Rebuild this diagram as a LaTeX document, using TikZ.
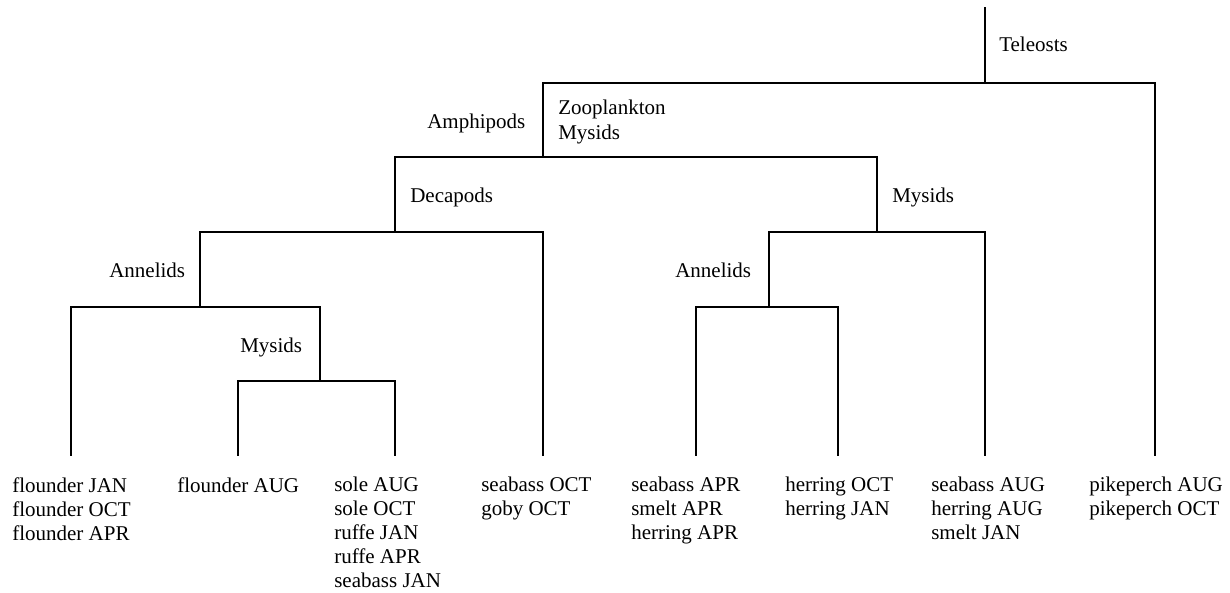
\documentclass[tikz,border=0pt]{standalone}
\usepackage{fontspec}
\setmainfont{Liberation Serif}
\begin{document}
\begin{tikzpicture}[x=0.75pt,y=-0.75pt,
  edge/.style={line width=1.5pt,line join=miter,line cap=rect},
  lbl/.style={inner sep=0pt,anchor=base west,font=\fontsize{15.75}{18}\selectfont},
  lblm/.style={inner sep=0pt,anchor=north west,align=left,font=\fontsize{15.75}{18.75}\selectfont},
  leaf/.style={inner sep=0pt,anchor=north west,align=left,font=\fontsize{15.75}{18}\selectfont}]
\useasboundingbox (0,0) rectangle (1230,592);
% junctions
\coordinate (r0) at (985,8);
\coordinate (a) at (985,83);
\coordinate (b) at (543,157);
\coordinate (c) at (395,232);
\coordinate (d) at (877,232);
\coordinate (e) at (200,307);
\coordinate (f) at (320,381);
\coordinate (g) at (769,307);
% leaf ends
\coordinate (L1) at (71,455);
\coordinate (L2) at (238,455);
\coordinate (L3) at (395,455);
\coordinate (L4) at (543,455);
\coordinate (L5) at (696,455);
\coordinate (L6) at (838,455);
\coordinate (L7) at (985,455);
\coordinate (L8) at (1155,455);
% connectors
\draw[edge] (r0) -- (a);
\draw[edge] (a) -| (b);
\draw[edge] (a) -| (L8);
\draw[edge] (b) -| (c);
\draw[edge] (b) -| (d);
\draw[edge] (c) -| (e);
\draw[edge] (c) -| (L4);
\draw[edge] (e) -| (L1);
\draw[edge] (e) -| (f);
\draw[edge] (f) -| (L2);
\draw[edge] (f) -| (L3);
\draw[edge] (d) -| (g);
\draw[edge] (d) -| (L7);
\draw[edge] (g) -| (L5);
\draw[edge] (g) -| (L6);
% branch labels
\node[lbl] (tel) at (999,52) {Teleosts};
\node[lbl] (amp) at (427,128) {Amphipods};
\node[lblm] (zoo) at (558,100) {Zooplankton\\Mysids};
\node[lbl] (dec) at (410,202) {Decapods};
\node[lbl] (mysR) at (892,202) {Mysids};
\node[lbl] (annL) at (109,277) {Annelids};
\node[lbl] (annR) at (675,277) {Annelids};
\node[lbl] (mysL) at (240,352) {Mysids};
% leaf labels
\node[leaf] (t1) at (12,477) {flounder JAN\\flounder OCT\\flounder APR};
\node[leaf] (t2) at (177,477) {flounder AUG};
\node[leaf] (t3) at (334,477) {sole AUG\\sole OCT\\ruffe JAN\\ruffe APR\\seabass JAN};
\node[leaf] (t4) at (481,477) {seabass OCT\\goby OCT};
\node[leaf] (t5) at (631,477) {seabass APR\\smelt APR\\herring APR};
\node[leaf] (t6) at (785,477) {herring OCT\\herring JAN};
\node[leaf] (t7) at (931,477) {seabass AUG\\herring AUG\\smelt JAN};
\node[leaf] (t8) at (1089,477) {pikeperch AUG\\pikeperch OCT};
\end{tikzpicture}
\end{document}
